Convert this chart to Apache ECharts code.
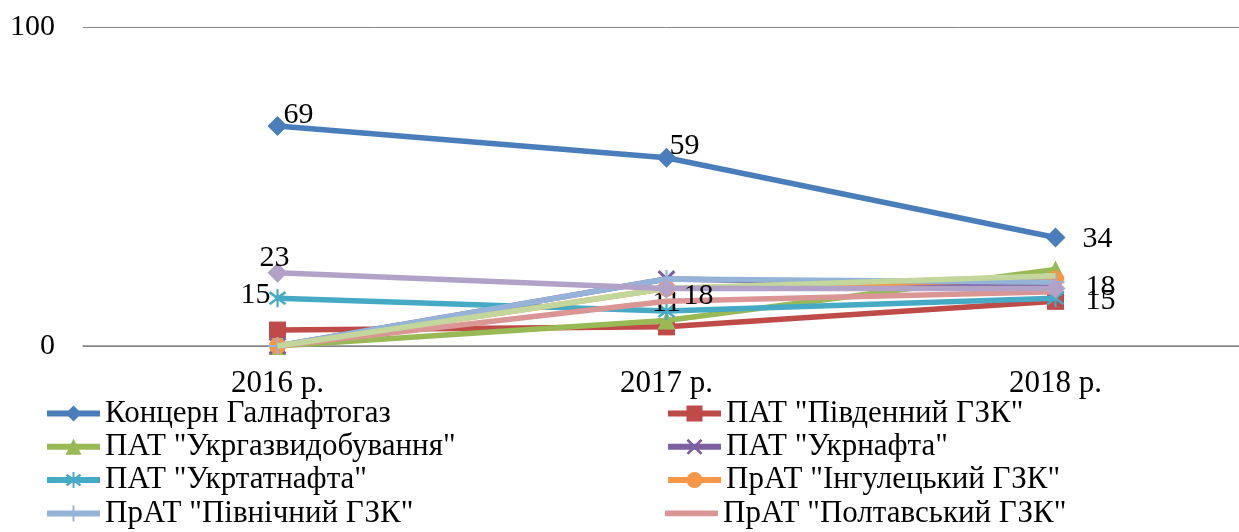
<!DOCTYPE html>
<html>
<head>
<meta charset="utf-8">
<script src="https://cdn.jsdelivr.net/npm/echarts@6/dist/echarts.min.js"></script>
<style>
html,body{margin:0;padding:0;background:#fff;overflow:hidden;width:1239px;height:532px;}
#chart{width:1250px;height:532px;}
</style>
</head>
<body>
<div id="chart"></div>
<script>
// ---- data ----
var categories = ["2016 р.", "2017 р.", "2018 р."];
var yTicks = [0, 100];
var seriesNames = [
  "Концерн Галнафтогаз",
  "ПАТ \"Південний ГЗК\"",
  "ПАТ \"Укргазвидобування\"",
  "ПАТ \"Укрнафта\"",
  "ПАТ \"Укртатнафта\"",
  "ПрАТ \"Інгулецький ГЗК\"",
  "ПрАТ \"Північний ГЗК\"",
  "ПрАТ \"Полтавський ГЗК\"",
  "Ряд 9",
  "Ряд 10"
];
var galnaftogaz   = [69, 59, 34];
var pivdennyi     = [5, 6, 14];
var ukrgazvyd     = [0, 8, 24];
var ukrnafta      = [0, 21, 19];
var ukrtatnafta   = [15, 11, 15];
var inhulets      = [0, 18, 21];
var pivnichnyi    = [0, 21, 20];
var poltavskyi    = [0, 14, 17];
var series9       = [0, 18, 22];
var series10      = [23, 18, 18];

// ---- styles ----
var FONT = "'Liberation Serif','Times New Roman',serif";
var FS = 30;
var colors = ["#4A7EBB","#BE4B48","#98B954","#7D60A0","#46AAC5","#F79646","#95B3D7","#D99694","#C3D69B","#B3A2C7"];
var xPath = "path://M0,1.2 L1.2,0 L5,3.8 L8.8,0 L10,1.2 L6.2,5 L10,8.8 L8.8,10 L5,6.2 L1.2,10 L0,8.8 L3.8,5 Z";
var starPath = "path://M0,1.2 L1.2,0 L5,3.8 L8.8,0 L10,1.2 L6.2,5 L10,8.8 L8.8,10 L5,6.2 L1.2,10 L0,8.8 L3.8,5 Z M4.4,-1.5 L5.6,-1.5 L5.6,11.5 L4.4,11.5 Z";
var plusPath = "path://M4.4,0 L5.6,0 L5.6,4.4 L10,4.4 L10,5.6 L5.6,5.6 L5.6,10 L4.4,10 L4.4,5.6 L0,5.6 L0,4.4 L4.4,4.4 Z";
var lineOnlyIcon = "path://M0,0 L0.05,0 L0.05,0.05 Z M0,20 L0.05,20 L0.05,19.95 Z M0,7 L55,7 L55,13 L0,13 Z";
var symbols = ["diamond","rect","triangle",xPath,starPath,"circle",plusPath,"none","none","diamond"];
var symbolSizes = [20,17,18,18,18,17,18,0,0,20];
// per-point label placement: [align, dx, dy]
var labelPlacement = {
  0: [["left",6,-11],["left",3,-12],["left",27,2]],
  4: [["right",-7,-3],["center",0,-8],["left",30,3]],
  9: [["center",-3,-15],["left",17,8],["left",30,-1]]
};
var allData = [galnaftogaz,pivdennyi,ukrgazvyd,ukrnafta,ukrtatnafta,inhulets,pivnichnyi,poltavskyi,series9,series10];

var series = allData.map(function(vals, i){
  var place = labelPlacement[i];
  var data = vals.map(function(v, j){
    var item = {value: v};
    if (place) {
      item.label = {
        show: true, position: "inside", align: place[j][0], verticalAlign: "middle",
        offset: [place[j][1], place[j][2]],
        color: "#000", fontFamily: FONT, fontSize: FS,
        formatter: function(p){ return p.value; }
      };
    }
    return item;
  });
  return {
    name: seriesNames[i],
    type: "line",
    data: data,
    symbol: symbols[i],
    symbolSize: symbolSizes[i],
    showSymbol: symbols[i] !== "none",
    color: colors[i],
    lineStyle: {width: 5.5, color: colors[i]},
    itemStyle: {color: colors[i]},
    emphasis: {disabled: true},
    animation: false,
    z: 2 + i
  };
});

// legend: two columns, four rows (rows 5+ fall outside the picture)
var legendOrder = [[0, 1], [2, 3], [4, 5], [6, 7]];
var colLeft = [44, 665];
var rowTop0 = 398, rowStep = 33.3;
var legends = [];
legendOrder.forEach(function(row, r){
  row.forEach(function(si, c){
    var item = {name: seriesNames[si]};
    if (symbols[si] === "none") item.icon = lineOnlyIcon;
    legends.push({
      orient: "horizontal",
      left: colLeft[c],
      top: rowTop0 + r * rowStep,
      padding: 0,
      itemWidth: 53,
      itemHeight: 20,
      itemGap: 0,
      selectedMode: false,
      lineStyle: {width: 6},
      textStyle: {fontFamily: FONT, fontSize: 31, color: "#000"},
      data: [item]
    });
  });
});

var chart = echarts.init(document.getElementById("chart"), null, {renderer: "canvas"});
chart.setOption({
  backgroundColor: "#fff",
  animation: false,
  grid: {left: 83, right: 0, top: 27, bottom: 186, containLabel: false},
  legend: legends,
  xAxis: {
    type: "category",
    data: categories,
    boundaryGap: true,
    axisLine: {show: true, lineStyle: {color: "#868686", width: 1.5}},
    axisTick: {show: false},
    axisLabel: {fontFamily: FONT, fontSize: 31, color: "#000", margin: 22}
  },
  yAxis: {
    type: "value",
    min: yTicks[0],
    max: yTicks[yTicks.length-1],
    interval: yTicks[1] - yTicks[0],
    axisLine: {show: false},
    axisTick: {show: false},
    splitLine: {show: true, lineStyle: {color: "#868686", width: 1}},
    axisLabel: {fontFamily: FONT, fontSize: FS, color: "#000", margin: 28}
  },
  series: series
});
</script>
</body>
</html>
